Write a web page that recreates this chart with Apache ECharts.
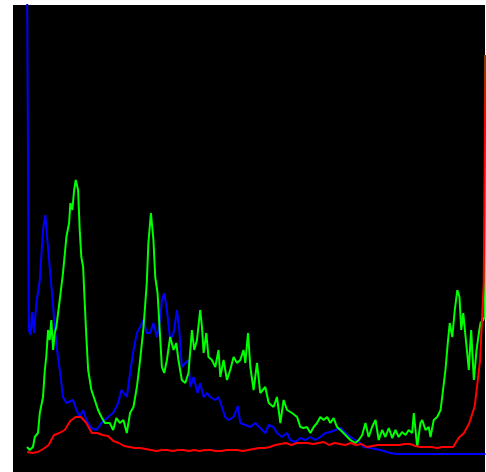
<!DOCTYPE html>
<html>
<head>
<meta charset="utf-8">
<script src="https://cdn.jsdelivr.net/npm/echarts@6/dist/echarts.min.js"></script>
<style>
  html, body { margin: 0; padding: 0; background: #fff; }
  #chart { width: 486px; height: 472px; }
</style>
</head>
<body>
<div id="chart"></div>
<script>
  // blue channel histogram (bin, count)
  var blueBins = [0, 1, 2, 2.8, 3.9, 5.2, 7.1, 8.9, 10.2, 11.3, 12.6, 14.1, 15.4, 16.7, 18.2, 20, 21.9,
    25.6, 27.5, 29.3, 31.2, 33, 35.8, 38.6, 41.4, 45.1, 47.9, 50.7, 52.5, 55.5, 57.3, 59.2,
    61.1, 62.9, 64.8, 66.6, 68.5, 70.3, 72.2, 74.1, 75, 76.3, 77.8, 79.6, 81.5, 83.4, 84.8,
    86.1, 88, 89.8, 90.8, 92.6, 94.8, 96.3, 98.2, 100.1, 101.9, 104.7, 106.5, 108.4, 110.2,
    112.1, 114.9, 117.2, 118.6, 121.4, 124.2, 126.9, 129.7, 132.5, 134.4, 137.1, 139, 141.8,
    144.6, 146.4, 149.2, 152, 154.8, 157.6, 160.4, 163.1, 165.9, 168.7, 171.5, 174.3, 177.1,
    179.8, 182.6, 185.4, 187.3, 191, 196.5, 202.1, 205.8, 255]
  var blueVals = [492, 124, 119, 142, 121, 151, 174, 224, 239, 214, 187, 157, 127, 104, 84, 57, 51,
    54, 44, 37, 44, 34, 26, 24, 31, 37, 41, 51, 64, 57, 81, 104,
    121, 127, 134, 121, 121, 131, 117, 134, 154, 161, 144, 114, 121, 144, 121,
    87, 91, 94, 67, 77, 61, 71, 57, 61, 57, 54, 57, 47, 37,
    34, 37, 48, 31, 29, 27, 31, 26, 21, 29, 27, 21, 17,
    21, 14, 12, 16, 14, 17, 14, 17, 21, 22, 24, 26, 21,
    17, 14, 11, 7, 6, 4, 1, 0, 0]

  // green channel histogram
  var greenBins = [0, 1.5, 3.3, 4.3, 6.1, 7.1, 8.9, 9.9, 10.7, 11.7, 12.6, 13.5, 14.5, 15.4, 16.3, 18.2,
    20, 21.9, 23.4, 24.1, 25.2, 26.2, 27.1, 28.4, 29.3, 30.2, 31.2, 32.1, 33, 34, 35.8, 37.7,
    39.5, 41.4, 43.3, 46, 47.9, 49.7, 51.6, 53.6, 55.5, 57.3, 59.2, 61.1, 62.9, 64.8, 66.6,
    67.5, 68.9, 70.3, 71.3, 72.6, 73.7, 75, 76.3, 77.8, 79.6, 81.5, 83, 84.2, 86.1, 88, 89.8,
    91.7, 93, 94.5, 96.3, 97.3, 98.2, 99.7, 100.9, 102.8, 104.7, 106.5, 107.5, 109.3, 111.2,
    113, 114.9, 116.8, 118.6, 120.4, 121.4, 122.9, 124.2, 126, 127.9, 129.7, 132.5, 134.4,
    137.1, 139, 140.9, 142.7, 144.6, 147.4, 150.2, 152, 153.8, 155.7, 157.6, 159.4, 161.3,
    163.1, 165, 166.9, 168.7, 170.5, 172.4, 174.3, 177.1, 179.8, 182.6, 184.5, 186.4, 188.2,
    190, 191.9, 193.8, 195.6, 197.5, 199.3, 201.2, 203.1, 204.9, 206.7, 208.6, 210.5, 212.3,
    214.2, 215.1, 217, 218.8, 219.8, 221.6, 223.4, 224.4, 226.2, 228.1, 230, 230.9, 232.7,
    234, 235.1, 236.5, 237.9, 239.3, 240.5, 241.5, 242.6, 243.9, 244.8, 245.7, 247, 248.5,
    250, 251.3, 252.2, 253.7, 254.5, 255]
  var greenVals = [7, 4, 7, 17, 21, 41, 57, 84, 97, 124, 114, 134, 104, 121, 127, 154,
    181, 217, 231, 251, 244, 264, 274, 264, 224, 197, 187, 151, 117, 84, 64, 54,
    44, 37, 31, 31, 24, 36, 31, 34, 21, 41, 47, 67, 94, 127, 171,
    211, 241, 214, 177, 161, 127, 87, 81, 94, 117, 104, 111, 94, 74, 71, 81,
    124, 104, 114, 144, 127, 101, 121, 97, 94, 87, 104, 77, 94, 74,
    84, 97, 91, 94, 104, 91, 121, 87, 64, 91, 61, 67, 51,
    47, 57, 31, 54, 44, 41, 37, 27, 26, 27, 21, 27, 31,
    37, 34, 37, 31, 36, 27, 24, 19, 14, 11, 14, 19, 31,
    17, 27, 34, 14, 24, 17, 26, 16, 24, 17, 22, 19, 24,
    21, 41, 7, 31, 34, 24, 27, 17, 34, 37, 44, 57, 84,
    111, 131, 117, 144, 164, 157, 124, 141, 117, 101, 84, 124, 74,
    104, 121, 131, 134, 137, 399]

  // red channel histogram
  var redBins = [0, 1, 3, 6, 9, 12, 15, 18, 21, 24, 27, 30, 33, 36, 39, 42, 45, 48, 51, 54, 57, 60,
    63, 66, 69, 72, 75, 78, 81, 84, 87, 90, 93, 96, 99, 102, 105, 108, 111, 114, 117, 120,
    123, 126, 129, 132, 135, 138, 141, 144, 147, 150, 153, 156, 159, 162, 165, 168, 171, 174,
    177, 180, 183, 186, 189, 192, 195, 198, 201, 204, 207, 210, 213, 216, 219, 222, 225, 228,
    231, 234, 237, 240, 243, 246, 249, 252, 254, 255]
  var redVals = [2, 2, 1, 2, 5, 9, 19, 21, 24, 33, 37, 37, 31, 21, 21, 19, 18, 13, 11, 8, 7, 6,
    6, 5, 4, 3, 4, 4, 3, 4, 4, 3, 4, 3, 4, 4, 3, 3, 4, 4, 4, 3,
    4, 5, 6, 6, 7, 9, 10, 11, 9, 11, 11, 11, 10, 11, 12, 9, 11, 10,
    9, 11, 9, 10, 7, 8, 9, 9, 9, 9, 9, 10, 10, 8, 7, 7, 7, 6,
    7, 7, 7, 16, 21, 31, 48, 94, 171, 399]

  function pairs(bins, vals) {
    return bins.map(function (b, i) { return [b, vals[i]] })
  }

  function lineSeries(name, color, bins, vals) {
    return {
      name: name,
      type: 'line',
      data: pairs(bins, vals),
      symbol: 'none',
      clip: true,
      lineStyle: { color: color, width: 2 },
      itemStyle: { color: color }
    }
  }

  var myChart = echarts.init(document.getElementById('chart'), null, { renderer: 'canvas' })
  myChart.setOption({
    animation: false,
    backgroundColor: '#fff',
    grid: {
      left: 13, right: 1, top: 5, bottom: 0,
      show: true,
      backgroundColor: '#000',
      borderWidth: 0
    },
    xAxis: {
      type: 'value',
      min: -7.8,
      max: 254.7,
      show: false
    },
    yAxis: {
      type: 'value',
      min: -18,
      max: 449,
      show: false
    },
    series: [
      lineSeries('B', '#0000ff', blueBins, blueVals),
      lineSeries('G', '#00ff00', greenBins, greenVals),
      lineSeries('R', '#ff0000', redBins, redVals)
    ]
  })
</script>
</body>
</html>
